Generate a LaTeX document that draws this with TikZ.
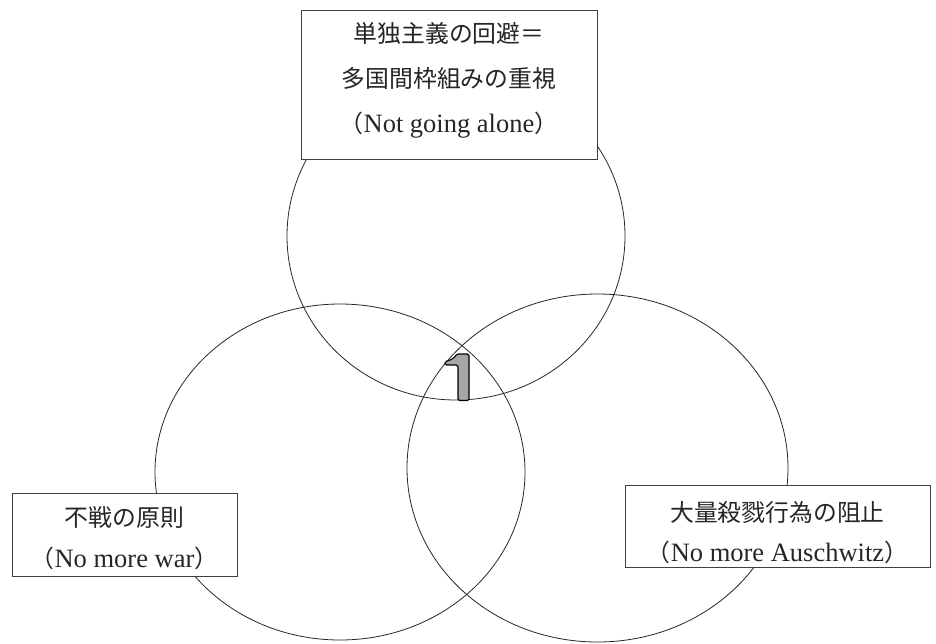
\documentclass[tikz,border=0pt]{standalone}
\usepackage{fontspec}
\setmainfont{Liberation Serif}
\newfontfamily\cjk{Noto Sans CJK JP}[Scale=0.9]
\begin{document}
\begin{tikzpicture}[x=1pt,y=-1pt,
  ring/.style={draw=black!85,line width=0.8pt},
  labelbox/.style={draw=black!75,line width=0.9pt,fill=white,rectangle,inner sep=0pt},
  txt/.style={inner sep=0pt,anchor=center,text=black!85,font=\fontsize{26.5}{30}\selectfont},
]
\useasboundingbox (0,0) rectangle (936,643);
% circles
\draw[ring] (456,236) ellipse [x radius=169,y radius=164];
\draw[ring] (340,472) ellipse [x radius=185,y radius=168];
\draw[ring] (597.5,468) ellipse [x radius=190.5,y radius=174];
% boxes
\node[labelbox,minimum width=296pt,minimum height=149pt] (topbox) at (449,84.5) {};
\node[labelbox,minimum width=225pt,minimum height=83pt] (leftbox) at (124.5,534.5) {};
\node[labelbox,minimum width=305pt,minimum height=82pt] (rightbox) at (777.5,526) {};
% texts
\node[txt] (t1) at (449,33) {\cjk 単独主義の回避＝};
\node[txt] (t2) at (449,78) {\cjk 多国間枠組みの重視};
\node[txt] (t3) at (449,125) {{\cjk （}Not going alone{\cjk ）}};
\node[txt] (l1) at (124.5,517) {\cjk 不戦の原則};
\node[txt] (l2) at (124.5,558) {{\cjk （}No more war{\cjk ）}};
\node[txt] (r1) at (777.5,512) {\cjk 大量殺戮行為の阻止};
\node[txt] (r2) at (777.5,552) {{\cjk （}No more Auschwitz{\cjk ）}};
% the digit 1
\draw[fill=black!35,line width=1.1pt,line join=round,rounded corners=1.5pt]
  (469,354) -- (469,400.5) -- (458,400.5) -- (458,365) -- (445,365) -- (445,361.5)
  .. controls (452,360) and (455,357) .. (456.5,354) -- cycle;
\end{tikzpicture}
\end{document}
